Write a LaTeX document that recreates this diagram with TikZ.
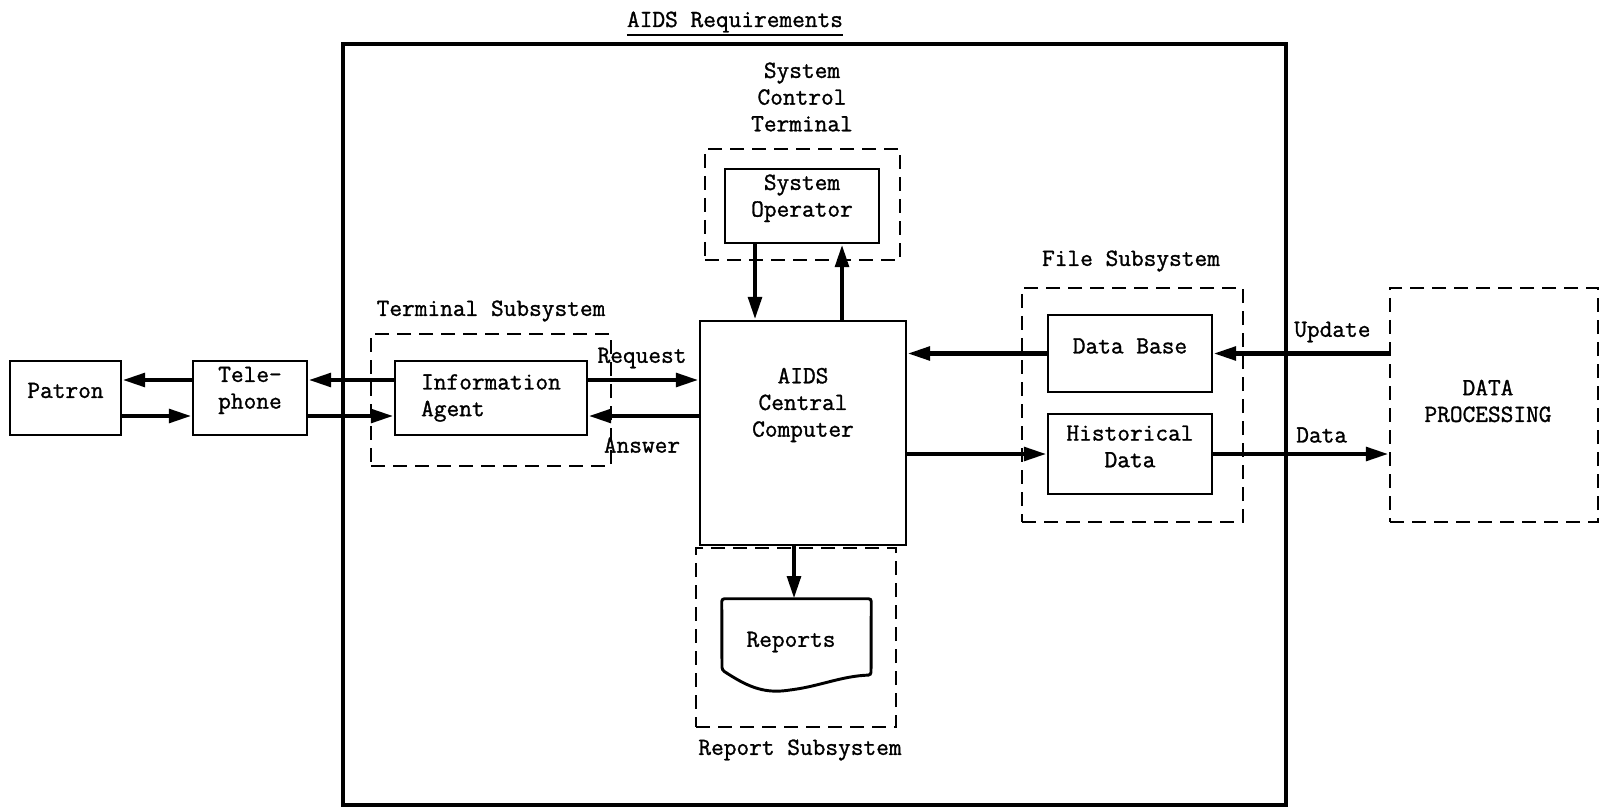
\documentclass[tikz,border=0pt]{standalone}
\usepackage{fontspec}
\setmonofont{Latin Modern Mono}[FakeBold=1.2]
\usetikzlibrary{arrows.meta,fit}
\begin{document}
\begin{tikzpicture}[x=0.75pt,y=-0.75pt,
  every node/.style={font=\fontsize{18.5}{20}\selectfont\ttfamily},
  box/.style={draw, line width=2.2pt, inner sep=0pt, align=center},
  dbox/.style={draw, line width=2.2pt, inner sep=0pt, dash pattern=on 10.5pt off 6pt},
  txt/.style={inner sep=0pt, align=center},
  conn/.style={line width=3.4pt, -{Triangle[length=17pt,width=10pt]}}
]
\useasboundingbox (0,0) rectangle (1606,809);

% title
\node[txt, anchor=base] (title) at (735,27) {AIDS Requirements};
\draw[line width=1.6pt] ([yshift=-6pt]title.base west) -- ([yshift=-6pt]title.base east);

% outer box
\node[draw, line width=2.6pt, inner sep=0pt, fit={(343,44) (1286,805)}] (outer) {};

% system control terminal
\node[txt] (sctl) at (802,97) {System\\Control\\Terminal};
\node[dbox, fit={(705,149) (900,260)}] (sct) {};
\node[box, fit={(725,169) (879,243)}] (op) {System\\Operator};

% central computer
\node[box, fit={(700,321) (906,545)}] (comp) {};
\node[txt] (comptext) at (803,405) {AIDS\\Central\\Computer};

% terminal subsystem
\node[txt] (tsl) at (491,311) {Terminal Subsystem};
\node[dbox, fit={(371,334) (611,466)}] (ts) {};
\node[box, fit={(395,361) (587,435)}] (ia) {};
\node[txt, align=left] (iatext) at (491,398) {Information\\Agent};

% patron and telephone
\node[box, fit={(10,361) (121,435)}] (pat) {Patron};
\node[box, fit={(193,361) (307,435)}] (tel) {Tele-\\phone};

% file subsystem
\node[txt] (fsl) at (1131,261) {File Subsystem};
\node[dbox, fit={(1022,288) (1243,522)}] (fs) {};
\node[box, fit={(1048,315) (1212,392)}] (db) {Data Base};
\node[box, fit={(1048,414) (1212,494)}] (hd) {Historical\\Data};

% data processing
\node[dbox, fit={(1390,288) (1598,522)}] (dp) {};
\node[txt] (dptext) at (1488,401) {DATA\\PROCESSING};

% report subsystem
\node[dbox, fit={(696,548) (896,727)}] (rs) {};
\node[txt] (rsl) at (800,750) {Report Subsystem};
\node[inner sep=0pt, fit={(722,599) (871,690)}] (rep) {};
\draw[line width=2.2pt, rounded corners=2pt]
  (rep.north west) -- (722,670) .. controls (745,685) and (762,694) .. (790,690)
  .. controls (820,686) and (842,676) .. (871,675) -- (rep.north east) -- cycle;
\node[txt] (reptext) at (791,642) {Reports};

% helper coordinates for connector lines
\coordinate (yup) at (0,380);
\coordinate (ydn) at (0,416);
\coordinate (xa) at (755,0);
\coordinate (xb) at (842,0);
\coordinate (xr) at (794,0);

% connectors
\draw[conn] (tel.west |- yup) -- (pat.east |- yup);
\draw[conn] (pat.east |- ydn) -- (tel.west |- ydn);
\draw[conn] (ia.west |- yup) -- (tel.east |- yup);
\draw[conn] (tel.east |- ydn) -- (ia.west |- ydn);
\draw[conn] (ia.east |- yup) -- (comp.west |- yup);
\draw[conn] (comp.west |- ydn) -- (ia.east |- ydn);
\node[txt] (req) at (642,358) {Request};
\node[txt] (ans) at (642,445) {Answer};

\draw[conn] (op.south -| xa) -- (comp.north -| xa);
\draw[conn] (comp.north -| xb) -- (op.south -| xb);

\draw[conn] (db.west) -- (comp.east |- db.west);
\draw[conn] (comp.east |- hd.west) -- (hd.west);
\draw[conn] (dp.west |- db.east) -- (db.east);
\draw[conn] (hd.east) -- (dp.west |- hd.east);
\node[txt, anchor=west] (upd) at (1294,332) {Update};
\node[txt, anchor=west] (dat) at (1296,435) {Data};

\draw[conn] (comp.south -| xr) -- (rep.north -| xr);
\end{tikzpicture}
\end{document}
